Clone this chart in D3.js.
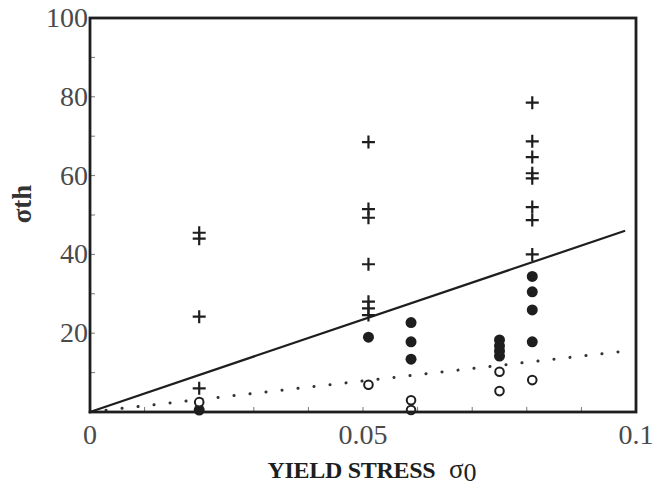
<!DOCTYPE html>
<html>
<head>
<meta charset="utf-8">
<script src="https://cdn.jsdelivr.net/npm/d3@7"></script>
<style>
html,body{margin:0;padding:0;background:#fff;}
svg{display:block;}
</style>
</head>
<body>
<svg id="chart" width="652" height="488"></svg>
<script>
// ---- data ----
const crosses = [
  [0.02, 45.5], [0.02, 44], [0.02, 24.2], [0.02, 6],
  [0.051, 68.5], [0.051, 51.5], [0.051, 49.3], [0.051, 37.5], [0.051, 28], [0.051, 26.3], [0.051, 24.6],
  [0.081, 78.5], [0.081, 68.7], [0.081, 64.7], [0.081, 60.6], [0.081, 59.3], [0.081, 52], [0.081, 48.7], [0.081, 40]
];
const filled = [
  [0.02, 0.5],
  [0.051, 19],
  [0.0588, 22.7], [0.0588, 17.8], [0.0588, 13.4],
  [0.075, 18.3], [0.075, 16.8], [0.075, 15.5], [0.075, 14.2],
  [0.081, 34.4], [0.081, 30.5], [0.081, 25.9], [0.081, 17.8]
];
const openPts = [
  [0.02, 2.5],
  [0.051, 6.9],
  [0.0588, 3], [0.0588, 0.5],
  [0.075, 10.2], [0.075, 5.3],
  [0.081, 8.1]
];
const solidLine = [[0, 0], [0.098, 46]];
const dottedLine = [[0, 0], [0.097, 15.3]];
const xTickLabels = [0, 0.05, 0.1];
const xTickLabelText = ["0", "0.05", "0.1"];
const yTickLabels = [20, 40, 60, 80, 100];

// ---- layout ----
const svg = d3.select("#chart");
const x = d3.scaleLinear().domain([0, 0.1]).range([90, 636]);
const y = d3.scaleLinear().domain([0, 100]).range([412, 18]);
const ink = "#1e1e1e";
const gray = "#4a4a4a";

// ticks (inside)
const xMinor = d3.range(0, 0.1001, 0.01);
const yMinor = d3.range(0, 100.01, 10);
svg.append("g").selectAll("line").data(xMinor).join("line")
  .attr("x1", d => x(d)).attr("x2", d => x(d))
  .attr("y1", y(0)).attr("y2", y(0) - 5)
  .attr("stroke", "#777").attr("stroke-width", 1);
svg.append("g").selectAll("line").data(yMinor).join("line")
  .attr("x1", x(0)).attr("x2", x(0) + 5)
  .attr("y1", d => y(d)).attr("y2", d => y(d))
  .attr("stroke", "#777").attr("stroke-width", 1);

// tick labels
svg.append("g").selectAll("text").data(xTickLabels).join("text")
  .attr("x", d => x(d)).attr("y", 444)
  .attr("text-anchor", "middle")
  .attr("font-family", "Liberation Serif, serif").attr("font-size", 28)
  .attr("fill", gray)
  .text((d, i) => xTickLabelText[i]);
svg.append("g").selectAll("text").data(yTickLabels).join("text")
  .attr("x", 88).attr("y", d => y(d) + 9)
  .attr("text-anchor", "end")
  .attr("font-family", "Liberation Serif, serif").attr("font-size", 28)
  .attr("fill", gray)
  .text(d => d);

// lines
const line = d3.line().x(d => x(d[0])).y(d => y(d[1]));
svg.append("path").attr("d", line(solidLine))
  .attr("fill", "none").attr("stroke", ink).attr("stroke-width", 2.2);
svg.append("path").attr("d", line(dottedLine))
  .attr("fill", "none").attr("stroke", "#333").attr("stroke-width", 3)
  .attr("stroke-linecap", "round").attr("stroke-dasharray", "0.1,16");

// markers
svg.append("g").selectAll("path").data(crosses).join("path")
  .attr("d", d => `M${x(d[0]) - 6.5},${y(d[1])}H${x(d[0]) + 6.5}M${x(d[0])},${y(d[1]) - 6.5}V${y(d[1]) + 6.5}`)
  .attr("stroke", ink).attr("stroke-width", 2.2).attr("fill", "none");
svg.append("g").selectAll("circle").data(filled).join("circle")
  .attr("cx", d => x(d[0])).attr("cy", d => y(d[1])).attr("r", 5.5)
  .attr("fill", ink);
svg.append("g").selectAll("circle").data(openPts).join("circle")
  .attr("cx", d => x(d[0])).attr("cy", d => y(d[1])).attr("r", 4.3)
  .attr("fill", "#fff").attr("stroke", ink).attr("stroke-width", 2);

// frame
svg.append("rect")
  .attr("x", x(0)).attr("y", y(100))
  .attr("width", x(0.1) - x(0)).attr("height", y(0) - y(100))
  .attr("fill", "none").attr("stroke", ink).attr("stroke-width", 2.8);

// axis titles
const xt = svg.append("text")
  .attr("x", 372).attr("y", 478).attr("text-anchor", "middle")
  .attr("font-family", "Liberation Serif, serif").attr("fill", ink);
xt.append("tspan").attr("font-size", 24).attr("font-weight", "bold").attr("letter-spacing", -0.3).text("YIELD STRESS ");
xt.append("tspan").attr("font-size", 27).attr("dx", 8).text("σ");
xt.append("tspan").attr("font-size", 26).attr("dy", 3).text("0");

svg.append("text")
  .attr("transform", "translate(31,204) rotate(-90)")
  .attr("text-anchor", "middle")
  .attr("font-family", "Liberation Serif, serif").attr("font-size", 27)
  .attr("font-weight", "bold").attr("fill", "#333")
  .text("σth");
</script>
</body>
</html>
